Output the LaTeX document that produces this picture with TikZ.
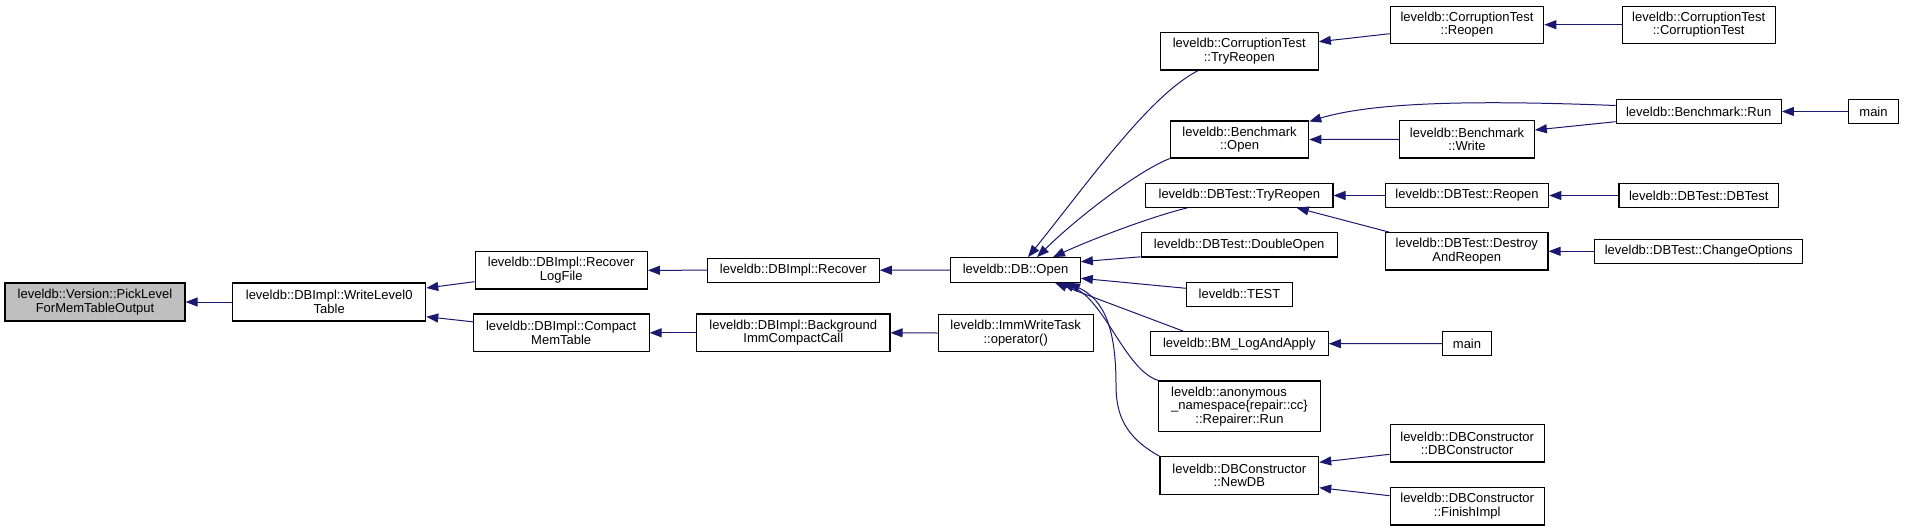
\documentclass[tikz,border=0pt]{standalone}
\usepackage{fontspec}
\setmainfont{Liberation Sans}
\usetikzlibrary{arrows.meta}
\definecolor{edgeblue}{HTML}{191970}
\definecolor{pickgray}{HTML}{BFBFBF}
\tikzset{
  fnbox/.style={draw=black, line width=1.1pt, fill=white, inner sep=0pt, align=center,
    font=\fontsize{13}{13.5}\selectfont},
  calledge/.style={draw=edgeblue, line width=1pt, -{Triangle[length=12pt,width=9pt]}}
}
\begin{document}
\begin{tikzpicture}[x=1pt,y=-1pt]
\useasboundingbox (0,0) rectangle (1919,531);
\fill[white] (0,0) rectangle (1919,531);
% nodes
\node[fnbox, fill=pickgray, minimum width=180pt, minimum height=38pt] (pick) at (95,302) {leveldb::Version::PickLevel\\ForMemTableOutput};
\node[fnbox, minimum width=193pt, minimum height=38pt] (wl0) at (329.2,302) {leveldb::DBImpl::WriteLevel0\\Table};
\node[fnbox, minimum width=172.3pt, minimum height=37.3pt] (rlf) at (561.2,270.3) {leveldb::DBImpl::Recover\\LogFile};
\node[fnbox, minimum width=175.7pt, minimum height=37.7pt] (cmt) at (561.2,332.8) {leveldb::DBImpl::Compact\\MemTable};
\node[fnbox, minimum width=172pt, minimum height=23.7pt] (rec) at (793.3,270.2) {leveldb::DBImpl::Recover};
\node[fnbox, minimum width=193.3pt, minimum height=37.7pt] (bicc) at (793.3,332.8) {leveldb::DBImpl::Background\\ImmCompactCall};
\node[fnbox, minimum width=129.6pt, minimum height=24.6pt] (dbopen) at (1015.5,270) {leveldb::DB::Open};
\node[fnbox, minimum width=155.3pt, minimum height=37.4pt] (imm) at (1015.7,333) {leveldb::ImmWriteTask\\::operator()};
\node[fnbox, minimum width=158pt, minimum height=37.3pt] (ctry) at (1239.3,51.3) {leveldb::CorruptionTest\\::TryReopen};
\node[fnbox, minimum width=138.4pt, minimum height=37pt] (bopen) at (1239.5,139.5) {leveldb::Benchmark\\::Open};
\node[fnbox, minimum width=187.3pt, minimum height=23.6pt] (dtry) at (1239.3,195.5) {leveldb::DBTest::TryReopen};
\node[fnbox, minimum width=196.3pt, minimum height=24.3pt] (dopen) at (1239.2,244.8) {leveldb::DBTest::DoubleOpen};
\node[fnbox, minimum width=105.6pt, minimum height=23.7pt] (test) at (1239.5,294.2) {leveldb::TEST};
\node[fnbox, minimum width=178pt, minimum height=24pt] (bm) at (1239.3,343.7) {leveldb::BM\_LogAndApply};
\node[fnbox, minimum width=161.6pt, minimum height=50.7pt] (anon) at (1239.5,406.3) {\rlap{leveldb::anonymous}\phantom{\_namespace\{repair::cc\}}\\\_namespace\{repair::cc\}\\::Repairer::Run};
\node[fnbox, minimum width=158.7pt, minimum height=37.6pt] (newdb) at (1239.3,475.5) {leveldb::DBConstructor\\::NewDB};
\node[fnbox, minimum width=153.4pt, minimum height=37.3pt] (crep) at (1467,24.7) {leveldb::CorruptionTest\\::Reopen};
\node[fnbox, minimum width=153.3pt, minimum height=37.3pt] (cct) at (1698.7,24.7) {leveldb::CorruptionTest\\::CorruptionTest};
\node[fnbox, minimum width=165.3pt, minimum height=24.4pt] (brun) at (1698.7,111.5) {leveldb::Benchmark::Run};
\node[fnbox, minimum width=49.6pt, minimum height=24.4pt] (mainA) at (1873.5,111.5) {main};
\node[fnbox, minimum width=134.6pt, minimum height=37.3pt] (bwrite) at (1467,139.3) {leveldb::Benchmark\\::Write};
\node[fnbox, minimum width=163.4pt, minimum height=24.4pt] (drep) at (1467,195.5) {leveldb::DBTest::Reopen};
\node[fnbox, minimum width=159.7pt, minimum height=24.4pt] (dbtest) at (1698.8,195.5) {leveldb::DBTest::DBTest};
\node[fnbox, minimum width=162.3pt, minimum height=37.3pt] (dar) at (1466.8,251.3) {leveldb::DBTest::Destroy\\AndReopen};
\node[fnbox, minimum width=208pt, minimum height=24pt] (chopt) at (1698.7,251.3) {leveldb::DBTest::ChangeOptions};
\node[fnbox, minimum width=49.4pt, minimum height=24.4pt] (mainB) at (1467,343.5) {main};
\node[fnbox, minimum width=154.3pt, minimum height=37.3pt] (dbc) at (1467.2,443.3) {leveldb::DBConstructor\\::DBConstructor};
\node[fnbox, minimum width=154.3pt, minimum height=37.3pt] (fin) at (1467.2,506.3) {leveldb::DBConstructor\\::FinishImpl};
\coordinate (nmid) at (1116,385);
% edges
\draw[calledge] (wl0.west) -- (pick.east);
\draw[calledge] ([yshift=-11.4pt]rlf.west) -- ([yshift=14pt]wl0.east);
\draw[calledge] ([yshift=11pt]cmt.west) -- ([yshift=-14.7pt]wl0.east);
\draw[calledge] (rec.west) -- (rlf.east);
\draw[calledge] (bicc.west) -- (cmt.east);
\draw[calledge] (dbopen.west) -- (rec.east);
\draw[calledge] (imm.west) -- (bicc.east);
\draw[calledge] ([xshift=-41pt]ctry.south) .. controls (1150,95) and (1090,180) .. ([xshift=12.5pt]dbopen.north);
\draw[calledge] (bopen.south west) .. controls (1140,170) and (1080,215) .. ([xshift=21.5pt]dbopen.north);
\draw[calledge] ([xshift=-52pt]dtry.south) .. controls (1150,217) and (1090,240) .. ([xshift=37.5pt]dbopen.north);
\draw[calledge] ([yshift=-12pt]dopen.west) -- ([yshift=8.3pt]dbopen.east);
\draw[calledge] ([yshift=5.9pt]test.west) -- ([yshift=-8.3pt]dbopen.east);
\draw[calledge] ([xshift=-56pt]bm.north) -- ([xshift=39.5pt]dbopen.south);
\draw[calledge] (anon.north west) .. controls (1125,370) and (1105,300) .. ([xshift=46.5pt]dbopen.south);
\draw[calledge] (newdb.north west) .. controls (1125,437) and (1116,415) .. (nmid) .. controls (1116,330) and (1105,300) .. ([xshift=52.5pt]dbopen.south);
\draw[calledge] ([yshift=-9pt]crep.west) -- ([yshift=9.6pt]ctry.east);
\draw[calledge] (cct.west) -- (crep.east);
\draw[calledge] ([yshift=6pt]brun.west) .. controls (1500,101) and (1380,100) .. ([yshift=18pt]bopen.east);
\draw[calledge] (bwrite.west) -- (bopen.east);
\draw[calledge] ([yshift=-10.2pt]brun.west) -- ([yshift=9.3pt]bwrite.east);
\draw[calledge] (mainA.west) -- (brun.east);
\draw[calledge] (drep.west) -- (dtry.east);
\draw[calledge] (dbtest.west) -- (drep.east);
\draw[calledge] ([xshift=4pt]dar.north west) -- ([xshift=57.4pt]dtry.south);
\draw[calledge] (chopt.west) -- (dar.east);
\draw[calledge] (mainB.west) -- (bm.east);
\draw[calledge] ([yshift=-11pt]dbc.west) -- ([yshift=13.2pt]newdb.east);
\draw[calledge] ([yshift=10.6pt]fin.west) -- ([yshift=-12.2pt]newdb.east);
\end{tikzpicture}
\end{document}
